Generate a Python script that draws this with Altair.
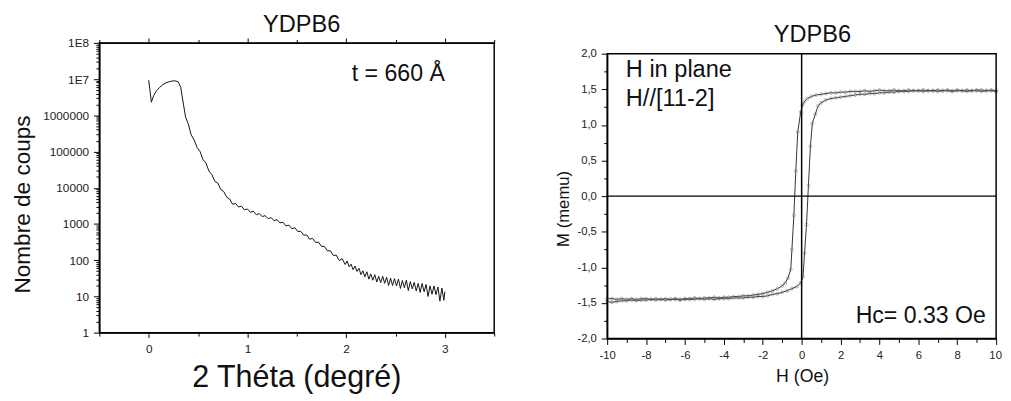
import altair as alt
import pandas as pd

FONT = "Liberation Sans"

# ---------------- Left panel: reflectivity (log counts vs 2 theta) ----------------
theta = [0.0, 0.01, 0.027, 0.05, 0.08, 0.11, 0.14, 0.175, 0.21, 0.245, 0.275, 0.30,
         0.325, 0.34, 0.355, 0.374,
         0.40, 0.43, 0.46, 0.49, 0.52, 0.55, 0.58, 0.61, 0.64, 0.67, 0.70, 0.73, 0.76,
         0.79, 0.82, 0.85, 0.88, 0.91, 0.94, 0.97, 1.00, 1.03, 1.06, 1.09, 1.12, 1.15,
         1.18, 1.21, 1.24, 1.27, 1.30, 1.33, 1.36, 1.39, 1.42, 1.45, 1.48, 1.51, 1.54,
         1.57, 1.60, 1.63, 1.66, 1.69, 1.72, 1.75, 1.78, 1.81, 1.84, 1.87, 1.90, 1.93,
         1.96, 1.99,
         2.01, 2.03, 2.05, 2.07, 2.09, 2.11, 2.13, 2.15, 2.17, 2.19, 2.21, 2.23, 2.25,
         2.27, 2.29, 2.31, 2.33, 2.35, 2.37, 2.39, 2.41, 2.43, 2.45, 2.47, 2.49, 2.51,
         2.53, 2.55, 2.57, 2.59, 2.61, 2.63, 2.65, 2.67, 2.69, 2.71, 2.73, 2.75, 2.77,
         2.79, 2.81, 2.83, 2.85, 2.87, 2.89, 2.91, 2.93, 2.95, 2.97, 2.99, 3.00]
counts = [9.3e6, 5.6e6, 2.3e6, 3.5e6, 4.8e6, 5.9e6, 6.9e6, 7.9e6, 8.5e6, 8.9e6, 8.9e6, 8.3e6,
          5.9e6, 3.2e6, 1.8e6, 8.9e5,
          5.9e5, 2.9e5, 2.1e5, 1.3e5, 1.0e5, 6.0e4, 4.8e4, 2.9e4, 2.3e4, 1.5e4, 1.35e4, 8.9e3, 7.9e3,
          5.5e3, 4.9e3, 3.5e3, 3.7e3, 2.95e3, 3.1e3, 2.45e3, 2.6e3, 2.1e3, 2.25e3, 1.8e3, 1.95e3, 1.6e3,
          1.7e3, 1.4e3, 1.5e3, 1.23e3, 1.32e3, 1.07e3, 1.12e3, 890, 930, 740, 790, 620, 630,
          490, 500, 380, 400, 310, 316, 240, 240, 182, 182, 135, 138, 98,
          110, 76,
          95, 66, 78, 55, 69, 49, 60, 40, 51, 35, 48, 30, 42,
          28, 40, 25, 36, 24, 36, 23, 34, 20, 32, 20, 31, 19.5,
          30, 16.6, 27.5, 17.4, 28, 14.5, 25.7, 16.2, 24.5, 14.1, 22.9, 12.9, 22.9,
          13.5, 21.4, 10, 19.5, 11.5, 19.5, 11.2, 18.2, 7.4, 17, 7.8, 13.5]

x_ticks_left = [-0.5, 0, 0.5, 1, 1.5, 2, 2.5, 3, 3.5]
log_ticks = [1, 2, 3, 4, 5, 6, 7, 8, 9,
             10, 20, 30, 40, 50, 60, 70, 80, 90,
             100, 200, 300, 400, 500, 600, 700, 800, 900,
             1000, 2000, 3000, 4000, 5000, 6000, 7000, 8000, 9000,
             10000, 20000, 30000, 40000, 50000, 60000, 70000, 80000, 90000,
             100000, 200000, 300000, 400000, 500000, 600000, 700000, 800000, 900000,
             1000000, 2000000, 3000000, 4000000, 5000000, 6000000, 7000000, 8000000, 9000000,
             10000000, 20000000, 30000000, 40000000, 50000000, 60000000, 70000000, 80000000, 90000000,
             100000000]

# ---------------- Right panel: hysteresis loop ----------------
h_down = [10.0, 9.75, 9.5, 9.25, 9.0, 8.75, 8.5, 8.25, 8.0, 7.75, 7.5, 7.25, 7.0, 6.75, 6.5, 6.25,
          6.0, 5.75, 5.5, 5.25, 5.0, 4.75, 4.5, 4.25, 4.0, 3.75, 3.5, 3.25, 3.0, 2.75, 2.5, 2.25, 2.0,
          1.75, 1.5, 1.25, 1.0, 0.75, 0.5, 0.3, 0.15, 0.05, -0.05, -0.2, -0.3, -0.4, -0.5, -0.56,
          -0.7, -0.85, -1.0, -1.25, -1.5, -1.75,
          -2.0, -2.25, -2.5, -2.75, -3.0, -3.25, -3.5, -3.75, -4.0, -4.25, -4.5, -4.75, -5.0, -5.25,
          -5.5, -5.75, -6.0, -6.25, -6.5, -6.75, -7.0, -7.25, -7.5, -7.75, -8.0, -8.25, -8.5, -8.75,
          -9.0, -9.25, -9.5, -9.75, -10.0]
m_down = [1.48, 1.49, 1.48, 1.49, 1.49, 1.48, 1.49, 1.48, 1.49, 1.48, 1.49, 1.48, 1.49, 1.48, 1.48, 1.49,
          1.48, 1.48, 1.49, 1.48, 1.48, 1.49, 1.48, 1.48, 1.49, 1.48, 1.47, 1.48, 1.47, 1.47, 1.47, 1.46, 1.46,
          1.45, 1.45, 1.44, 1.43, 1.42, 1.40, 1.37, 1.33, 1.28, 1.18, 0.90, 0.35, -0.27, -0.75, -1.03,
          -1.15, -1.22, -1.26, -1.30, -1.33, -1.35,
          -1.37, -1.38, -1.39, -1.40, -1.40, -1.41, -1.41, -1.42, -1.42, -1.43, -1.42, -1.43, -1.43, -1.44,
          -1.43, -1.44, -1.44, -1.45, -1.44, -1.45, -1.44, -1.45, -1.44, -1.45, -1.44, -1.44, -1.45, -1.44,
          -1.45, -1.44, -1.45, -1.44, -1.44]
h_up = [-10.0, -9.75, -9.5, -9.25, -9.0, -8.75, -8.5, -8.25, -8.0, -7.75, -7.5, -7.25, -7.0, -6.75,
        -6.5, -6.25, -6.0, -5.75, -5.5, -5.25, -5.0, -4.75, -4.5, -4.25, -4.0, -3.75, -3.5, -3.25,
        -3.0, -2.75, -2.5, -2.25, -2.0,
        -1.75, -1.5, -1.25, -1.0, -0.75, -0.5, -0.25, -0.05, 0.07, 0.15, 0.25, 0.35, 0.45, 0.55,
        0.7, 0.85, 1.0, 1.25, 1.5, 1.75,
        2.0, 2.25, 2.5, 2.75, 3.0, 3.25, 3.5, 3.75, 4.0, 4.25, 4.5, 4.75, 5.0, 5.25, 5.5, 5.75,
        6.0, 6.25, 6.5, 6.75, 7.0, 7.25, 7.5, 7.75, 8.0, 8.25, 8.5, 8.75, 9.0, 9.25, 9.5, 9.75, 10.0]
m_up = [-1.48, -1.49, -1.48, -1.47, -1.47, -1.46, -1.47, -1.46, -1.46, -1.45, -1.46, -1.45, -1.46, -1.45,
        -1.45, -1.46, -1.45, -1.45, -1.45, -1.44, -1.45, -1.44, -1.45, -1.44, -1.44, -1.44, -1.43, -1.43,
        -1.43, -1.42, -1.42, -1.41, -1.41,
        -1.40, -1.38, -1.37, -1.35, -1.33, -1.30, -1.27, -1.22, -1.13, -0.80, -0.40, 0.15, 0.70, 1.02,
        1.15, 1.27, 1.31, 1.35, 1.37, 1.38,
        1.39, 1.40, 1.41, 1.42, 1.43, 1.43, 1.44, 1.44, 1.45, 1.45, 1.46, 1.46, 1.47, 1.47, 1.47, 1.48,
        1.48, 1.47, 1.48, 1.48, 1.47, 1.48, 1.48, 1.47, 1.48, 1.48, 1.47, 1.48, 1.48, 1.47, 1.48, 1.48, 1.47]

x_ticks_right = [-10, -9, -8, -7, -6, -5, -4, -3, -2, -1, 0, 1, 2, 3, 4, 5, 6, 7, 8, 9, 10]
y_ticks_right = [-2.0, -1.75, -1.5, -1.25, -1.0, -0.75, -0.5, -0.25, 0.0, 0.25, 0.5, 0.75,
                 1.0, 1.25, 1.5, 1.75, 2.0]
h_limits = [-10, 10]
m_limits = [-2, 2]

# ---------------- data frames ----------------
df_xrr = pd.DataFrame({"theta": theta, "counts": counts, "i": list(range(len(theta)))})
df_loop = pd.concat([
    pd.DataFrame({"H": h_down, "M": m_down, "branch": "down", "i": list(range(len(h_down)))}),
    pd.DataFrame({"H": h_up, "M": m_up, "branch": "up", "i": list(range(len(h_up)))}),
], ignore_index=True)
df_frame = pd.DataFrame({"h1": [h_limits[0]], "h2": [h_limits[1]], "m1": [m_limits[0]], "m2": [m_limits[1]]})

TXT = "#111111"


def text(txt, x, y, size, align="left", angle=0):
    return alt.Chart(pd.DataFrame({"t": [txt]})).mark_text(
        align=align, baseline="alphabetic", fontSize=size, font=FONT, angle=angle, color=TXT
    ).encode(x=alt.value(x), y=alt.value(y), text="t:N")


def anchor(x, y):
    return alt.Chart(pd.DataFrame({"a": [0]})).mark_point(opacity=0, size=1).encode(
        x=alt.value(x), y=alt.value(y))


# ---------------- left chart ----------------
LW, LH = 402, 295
xs_left = alt.Scale(domain=[-0.5, 3.5], nice=False, zero=False)
ys_left = alt.Scale(type="log", domain=[1, 1e8], nice=False)

is_int = "abs(datum.value - round(datum.value)) < 1e-6"
is_dec = "indexof([1,10,100,1000,10000,100000,1000000,10000000,100000000], datum.value) >= 0"

x_bottom_left = alt.Axis(
    orient="bottom", values=x_ticks_left, title=None, grid=False, labelFlush=False,
    labelExpr=f"({is_int}) ? format(datum.value, 'd') : ''",
    tickSize={"condition": {"test": is_int, "value": 5}, "value": 3.5},
    labelPadding=6, labelFontSize=12)
x_top_left = alt.Axis(
    orient="top", values=x_ticks_left, title=None, grid=False, labels=False,
    tickSize={"condition": {"test": is_int, "value": 5}, "value": 3.5})
y_left = alt.Axis(
    orient="left", values=log_ticks, title=None, grid=False, labelFlush=False,
    labelExpr=("datum.value == 10000000 ? '1E7' : datum.value == 100000000 ? '1E8' : "
               f"(({is_dec}) ? format(datum.value, 'd') : '')"),
    tickSize={"condition": {"test": is_dec, "value": 6}, "value": 3.5},
    labelPadding=5, labelFontSize=12)

xrr_line = alt.Chart(df_xrr).mark_line(color="#111111", strokeWidth=1).encode(
    x=alt.X("theta:Q", scale=xs_left, axis=x_bottom_left),
    y=alt.Y("counts:Q", scale=ys_left, axis=y_left),
    order="i:Q")
xrr_top = alt.Chart(df_xrr).mark_point(opacity=0, size=1).encode(
    x=alt.X("theta:Q", scale=xs_left, axis=x_top_left))

left = alt.layer(
    xrr_line, xrr_top,
    text("YDPB6", 206, -11, 24, align="center"),
    text("t = 660 Å", 257, 39, 23.5),
    text("2 Théta (degré)", 201, 350, 31, align="center"),
    text("Nombre de coups", -71, 164.5, 23, align="center", angle=270),
    anchor(-91, -30),
).resolve_axis(x="independent").properties(width=LW, height=LH)

# ---------------- right chart ----------------
# plot area sits 11 px lower than the left one: the y range is offset inside a taller view
RW, RH, TOP = 396, 301, 11
xs_right = alt.Scale(domain=h_limits, nice=False, zero=False)
ys_right = alt.Scale(domain=m_limits, nice=False, zero=False, range=[RH, TOP])
is_even = "abs(datum.value/2 - round(datum.value/2)) < 1e-6"
is_half = "abs(datum.value*2 - round(datum.value*2)) < 1e-6"

x_right = alt.Axis(
    orient="bottom", values=x_ticks_right, title=None, grid=False, labelFlush=False,
    labelExpr=f"({is_even}) ? replace(format(datum.value, 'd'), '\u2212', '-') : ''",
    tickSize={"condition": {"test": is_even, "value": 6}, "value": 4},
    labelOffset={"condition": {"test": "datum.value == 10", "value": -1}, "value": 0},
    labelPadding=5, labelFontSize=11.5)
y_right = alt.Axis(
    orient="left", values=y_ticks_right, title=None, grid=False, labelFlush=False,
    labelExpr=(f"({is_half}) ? replace(replace(format(datum.value, '.1f'), '.', ','), '\u2212', '-') : ''"),
    tickSize={"condition": {"test": is_half, "value": 6}, "value": 3.5},
    labelPadding=5, labelFontSize=11.5)

loop_line = alt.Chart(df_loop).mark_line(color="#333333", strokeWidth=1).encode(
    x=alt.X("H:Q", scale=xs_right, axis=x_right),
    y=alt.Y("M:Q", scale=ys_right, axis=y_right),
    detail="branch:N", order="i:Q")
loop_pts = alt.Chart(df_loop).mark_point(
    shape="circle", filled=False, size=10, strokeWidth=0.7, color="#777777").encode(
    x=alt.X("H:Q", scale=xs_right, axis=x_right),
    y=alt.Y("M:Q", scale=ys_right, axis=y_right))
frame = alt.Chart(df_frame).mark_rect(
    fillOpacity=0, stroke="black", strokeWidth=1.5).encode(
    x=alt.X("h1:Q", scale=xs_right, axis=x_right), x2="h2:Q",
    y=alt.Y("m1:Q", scale=ys_right, axis=y_right), y2="m2:Q")
zero_v = alt.Chart(pd.DataFrame({"h": [0], "m1": [m_limits[0]], "m2": [m_limits[1]]})).mark_rule(
    color="black", strokeWidth=1.5).encode(
    x=alt.X("h:Q", scale=xs_right, axis=x_right),
    y=alt.Y("m1:Q", scale=ys_right, axis=y_right), y2="m2:Q")
zero_h = alt.Chart(pd.DataFrame({"m": [0]})).mark_rule(color="black", strokeWidth=1.5).encode(
    y=alt.Y("m:Q", scale=ys_right, axis=y_right))

right = alt.layer(
    loop_line, loop_pts, frame, zero_v, zero_h,
    text("YDPB6", 209, -12 + TOP, 24, align="center"),
    text("H in plane", 19, 24 + TOP, 24),
    text("H//[11-2]", 19, 53 + TOP, 24),
    text("Hc= 0.33 Oe", 253, 274 + TOP, 23.5),
    text("H (Oe)", 199, 334 + TOP, 18, align="center"),
    text("M (memu)", -39, 158 + TOP, 17, align="center", angle=270),
    anchor(-56, 100),
).properties(width=RW, height=RH, view=alt.ViewConfig(stroke="transparent"))

chart = alt.hconcat(left, right, spacing=55, bounds="full").properties(
    padding=0
).configure_view(
    stroke="black", strokeWidth=1.5
).configure_axis(
    domainColor="black", domainWidth=1.5, tickColor="black", tickWidth=1,
    labelColor="#222222", labelFont=FONT, titleFont=FONT
)

chart.save("out.html", embed_options={"renderer": "svg", "actions": False})
